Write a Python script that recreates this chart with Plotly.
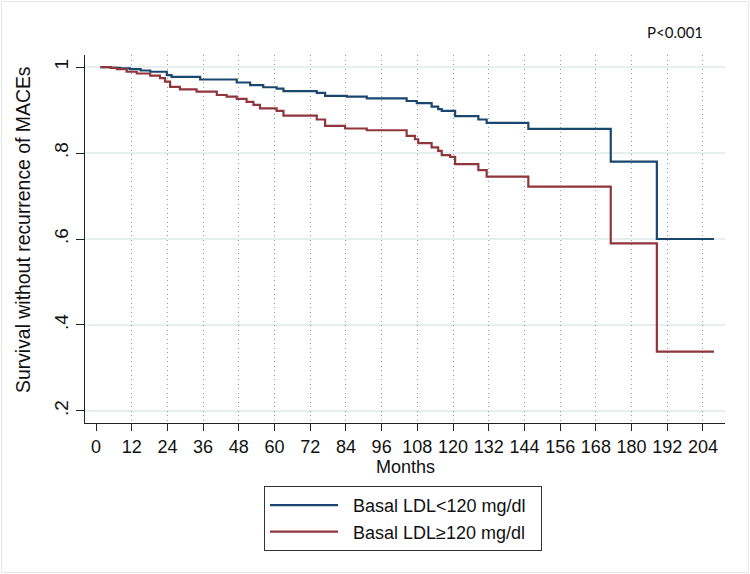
import plotly.graph_objects as go

# Kaplan-Meier step data (time in months, survival from that time on)
blue_t = [1.5, 5, 8, 11.4, 15, 18.2, 23.8, 25.4, 35, 47.3, 51.8, 56.2, 60.7, 63, 74.2, 77,
          84.3, 91, 104.4, 107.8, 112.8, 115, 116.2, 120.7, 128.5, 131.3, 145.3, 173, 188.5, 207.7]
blue_s = [1.0, 0.998, 0.997, 0.995, 0.992, 0.989, 0.981, 0.977, 0.971, 0.964, 0.958, 0.953, 0.950, 0.944, 0.940, 0.933,
          0.931, 0.927, 0.921, 0.916, 0.908, 0.902, 0.898, 0.886, 0.878, 0.870, 0.856, 0.780, 0.600, 0.600]

red_t = [1.5, 5, 7, 10.3, 13.7, 18.2, 21.5, 23.2, 24.9, 28.2, 33.8, 40.6, 43.9, 47.3, 50.6, 52.9,
         55.1, 60.7, 63, 74.2, 77, 83.7, 91, 104.4, 107.2, 108.3, 112.8, 115, 116.2, 119, 120.7,
         128.5, 131.3, 145.3, 173, 188.5, 207.7]
red_s = [1.0, 0.998, 0.995, 0.989, 0.985, 0.980, 0.974, 0.966, 0.954, 0.948, 0.943, 0.935, 0.931, 0.926, 0.919, 0.912,
         0.904, 0.898, 0.887, 0.878, 0.863, 0.857, 0.853, 0.840, 0.832, 0.823, 0.813, 0.805, 0.795, 0.791, 0.774,
         0.760, 0.745, 0.722, 0.590, 0.338, 0.338]

x_ticks = list(range(0, 205, 12))
grid_ticks = list(range(12, 205, 12))
y_ticks = [0.2, 0.4, 0.6, 0.8, 1.0]
y_labels = [".2", ".4", ".6", ".8", "1"]

series_names = ["Basal LDL<120 mg/dl", "Basal LDL\u2265120 mg/dl"]
series_colors = ["#1a476f", "#90353b"]

FONT = "Liberation Sans, Arial, sans-serif"
PAD = "\u00a0\u00a0"

fig = go.Figure()
for t, s, name, col in [(blue_t, blue_s, series_names[0], series_colors[0]),
                        (red_t, red_s, series_names[1], series_colors[1])]:
    fig.add_trace(go.Scatter(x=t, y=s, mode="lines", line=dict(shape="hv", color=col, width=2.2),
                             name=PAD + name + PAD))

x_range = [-3.7, 211.4]
y_range = [0.172, 1.028]

fig.update_layout(
    width=750, height=574,
    margin=dict(l=85, r=25, t=55, b=151),
    paper_bgcolor="white", plot_bgcolor="white",
    font=dict(family=FONT, size=18, color="#111"),
    xaxis=dict(range=x_range, tickvals=x_ticks, ticktext=[str(v) for v in x_ticks],
               showgrid=False, zeroline=False, showline=True, linecolor="#222", linewidth=1.3,
               ticks="outside", ticklen=7, tickcolor="#222", tickwidth=1.3,
               tickfont=dict(size=18, color="#111")),
    xaxis2=dict(range=x_range, overlaying="x", tickvals=grid_ticks, showgrid=True,
                gridcolor="#9a9a9a", griddash="1px,3.5px", gridwidth=1, showticklabels=False,
                ticks="", zeroline=False, showline=False, side="bottom"),
    yaxis=dict(range=y_range, tickvals=y_ticks, ticktext=y_labels, tickangle=-90,
               showgrid=True, gridcolor="#e6eef0", gridwidth=1.5, zeroline=False,
               showline=True, linecolor="#222", linewidth=1.3,
               ticks="outside", ticklen=8, tickcolor="#222", tickwidth=1.3,
               tickfont=dict(size=19, color="#111")),
    legend=dict(x=(264 - 85) / 640, y=(423 - 486) / 368, xanchor="left", yanchor="top",
                bordercolor="#333", borderwidth=1, bgcolor="white",
                font=dict(size=18, color="#111"), itemwidth=68, tracegroupgap=0),
    showlegend=True,
)

# invisible trace on xaxis2 so the dotted grid is drawn
fig.add_trace(go.Scatter(x=[None], y=[None], xaxis="x2", showlegend=False, hoverinfo="skip"))

fig.add_annotation(text="Survival without recurrence of MACEs", xref="paper", yref="paper",
                   x=(23 - 85) / 640, y=(423 - 230) / 368, textangle=-90, showarrow=False,
                   font=dict(size=19.4, color="#111"), xanchor="center", yanchor="middle")
fig.add_annotation(text="Months", xref="paper", yref="paper", x=0.5, y=(423 - 467) / 368,
                   showarrow=False, font=dict(size=18, color="#111"), xanchor="center", yanchor="middle")
fig.add_annotation(text="P<0.001", xref="paper", yref="paper", x=(675 - 85) / 640, y=(423 - 32) / 368,
                   showarrow=False, font=dict(size=15, color="#111", family="Lato, sans-serif"),
                   xanchor="center", yanchor="middle")

fig.add_shape(type="rect", xref="paper", yref="paper",
              x0=(1.5 - 85) / 640, x1=(748.5 - 85) / 640, y0=(423 - 572.5) / 368, y1=(423 - 1.5) / 368,
              line=dict(color="#e6e6e6", width=1), layer="below")

fig.write_html("out.html")
